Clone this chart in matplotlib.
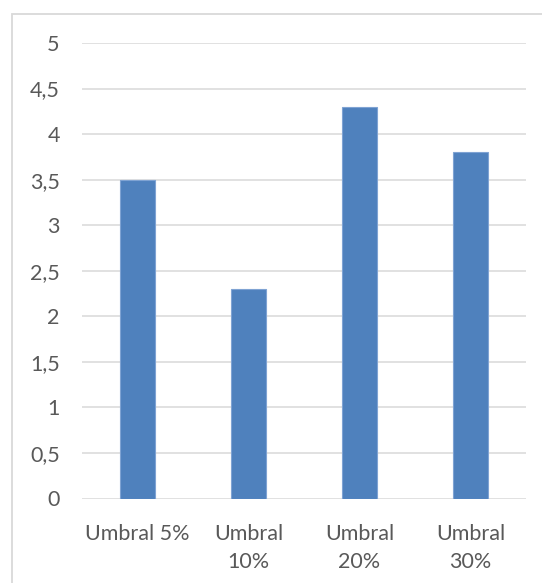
import matplotlib.pyplot as plt
from matplotlib.patches import Rectangle

categorias = ['Umbral 5%', 'Umbral\n10%', 'Umbral\n20%', 'Umbral\n30%']
valores = [3.5, 2.3, 4.3, 3.8]
ticks_y = [0, 0.5, 1, 1.5, 2, 2.5, 3, 3.5, 4, 4.5, 5]

plt.rcParams['font.family'] = ['Lato', 'DejaVu Sans']

fig = plt.figure(figsize=(5.42, 5.83), dpi=100)
ax = fig.add_axes([82 / 542, 1 - 498.5 / 583, 444 / 542, 455.5 / 583])

# marco gris del gráfico
fig.patches.append(Rectangle((12 / 542, -0.1), 1.2, 1.1 - 14 / 583,
                             transform=fig.transFigure, fill=False,
                             edgecolor='#D9D9D9', linewidth=1.3))

x = range(len(categorias))
ax.bar(x, valores, width=0.31, color='#4F81BD', edgecolor='#7FA3D3',
       linewidth=0.8, zorder=3)

ax.set_xlim(-0.5, len(categorias) - 0.5)
ax.set_ylim(0, 5)
ax.set_yticks(ticks_y)
ax.set_yticklabels([str(v).replace('.', ',') if v != int(v) else str(int(v)) for v in ticks_y])
ax.set_xticks(list(x))
ax.set_xticklabels(categorias, linespacing=1.55)

ax.grid(axis='y', color='#D9D9D9', linewidth=1.1, zorder=0)
for s in ax.spines.values():
    s.set_visible(False)
ax.tick_params(axis='both', length=0, colors='#595959', labelsize=15.5)
ax.tick_params(axis='y', pad=16)
ax.tick_params(axis='x', pad=18)

fig.savefig('out.png', dpi=100)
